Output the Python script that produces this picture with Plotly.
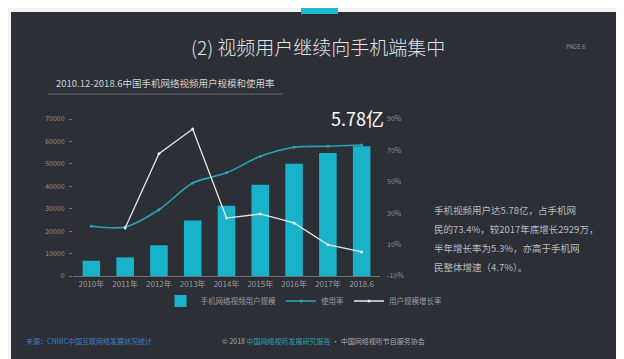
import plotly.graph_objects as go

categories = ["2010年", "2011年", "2012年", "2013年", "2014年", "2015年", "2016年", "2017年", "2018.6"]
users = [6800, 8300, 13700, 24800, 31300, 40700, 50100, 54800, 57800]          # 万人
usage_rate = [21.7, 21.2, 32.2, 49.2, 55.7, 66.2, 72.0, 72.6, 73.4]            # %
growth_rate = [None, 20.6, 67.9, 83.6, 26.9, 29.5, 23.8, 9.9, 5.3]              # %
left_ticks = [0, 10000, 20000, 30000, 40000, 50000, 60000, 70000]
left_tick_text = ["0", "10000", "20000", "30000", "40000", "50000", "60000", "70000"]
right_ticks = [-10, 10, 30, 50, 70, 90]
right_tick_text = ["-10%", "10%", "30%", "50%", "70%", "90%"]
paragraph = [
    "手机视频用户达5.78亿，占手机网",
    "民的73.4%，较2017年底增长2929万，",
    "半年增长率为5.3%，亦高于手机网",
    "民整体增速（4.7%）。",
]

W, H = 624, 359
L, R, T, B = 65, 252, 111, 91
PW, PH = W - L - R, H - T - B
FONT = "Noto Sans CJK SC"
BG = "#2c2f36"

def px(x):
    return (x - L) / PW

def py(y):
    return (H - y - B) / PH

fig = go.Figure()
fig.add_trace(go.Bar(
    x=categories, y=users, name="手机网络视频用户规模",
    marker=dict(color="#19b3c9", line=dict(width=0)), width=0.52,
))
fig.add_trace(go.Scatter(
    x=categories, y=usage_rate, name="使用率", yaxis="y2", mode="lines+markers",
    line=dict(color="#2aa3b5", width=1.6, shape="spline", smoothing=0.8),
    marker=dict(size=3, color="#2aa3b5"),
))
fig.add_trace(go.Scatter(
    x=categories, y=growth_rate, name="用户规模增长率", yaxis="y2", mode="lines+markers",
    line=dict(color="#e6e8ea", width=1.3),
    marker=dict(size=3, color="#e6e8ea"),
))

shapes = [
    dict(type="rect", xref="paper", yref="paper", x0=px(0), x1=px(W), y0=py(4), y1=py(0),
         fillcolor="#f2f2f2", line=dict(width=0), layer="below"),
    dict(type="rect", xref="paper", yref="paper", x0=px(0), x1=px(W), y0=py(H), y1=py(351),
         fillcolor="#cfd0d2", line=dict(width=0), layer="below"),
    dict(type="rect", xref="paper", yref="paper", x0=px(0), x1=px(3), y0=py(H), y1=py(0),
         fillcolor="#f2f2f2", line=dict(width=0), layer="below"),
    dict(type="rect", xref="paper", yref="paper", x0=px(618), x1=px(W), y0=py(H), y1=py(0),
         fillcolor="#f2f2f2", line=dict(width=0), layer="below"),
    dict(type="rect", xref="paper", yref="paper", x0=px(293), x1=px(330), y0=py(6), y1=py(0),
         fillcolor="#1fb8cc", line=dict(width=0), layer="below"),
    dict(type="line", xref="paper", yref="paper", x0=px(40), x1=px(275), y0=py(86), y1=py(86),
         line=dict(color="#6a6d73", width=1)),
]

annotations = [
    dict(text="(2) 视频用户继续向手机端集中", x=px(310), y=py(38), xref="paper", yref="paper",
         showarrow=False, font=dict(family=FONT, size=19, weight=300, color="#e4e5e7"),
         xanchor="center", yanchor="middle"),
    dict(text="PAGE 6", x=px(568), y=py(38), xref="paper", yref="paper",
         showarrow=False, font=dict(family=FONT, size=6, color="#8c8f94"), xanchor="center", yanchor="middle"),
    dict(text="2010.12-2018.6中国手机网络视频用户规模和使用率", x=px(46), y=py(75), xref="paper", yref="paper",
         showarrow=False, font=dict(family=FONT, size=9.5, color="#d0d2d5"), xanchor="left", yanchor="middle"),
    dict(text="5.78亿", x=px(349), y=py(110), xref="paper", yref="paper",
         showarrow=False, font=dict(family=FONT, size=18, color="#ffffff"), xanchor="center", yanchor="middle"),
    dict(text="来源：CNNIC中国互联网络发展状况统计", x=px(16), y=py(333), xref="paper", yref="paper",
         showarrow=False, font=dict(family=FONT, size=7, color="#3f7fc4"), xanchor="left", yanchor="middle"),
    dict(text="© 2018 <span style='color:#2f9fae'>中国网络视听发展研究报告</span> · 中国网络视听节目服务协会",
         x=px(212), y=py(333), xref="paper", yref="paper",
         showarrow=False, font=dict(family=FONT, size=7, color="#a8aaae"), xanchor="left", yanchor="middle"),
]
for i, line in enumerate(paragraph):
    annotations.append(dict(
        text=line, x=px(424), y=py(202 + 19 * i), xref="paper", yref="paper",
        showarrow=False, font=dict(family=FONT, size=9.5, color="#b8babd"),
        xanchor="left", yanchor="middle",
    ))

fig.update_layout(
    width=W, height=H, autosize=False,
    margin=dict(l=L, r=R, t=T, b=B, pad=0),
    paper_bgcolor=BG, plot_bgcolor=BG,
    font=dict(family=FONT, color="#9a9ca0", size=8),
    xaxis=dict(
        type="category", categoryorder="array", categoryarray=categories,
        showgrid=False, showline=True, linecolor="#6d7076", linewidth=1,
        ticks="", tickfont=dict(size=8, color="#9a9ca0"), zeroline=False,
    ),
    yaxis=dict(
        range=[0, 70000], tickvals=left_ticks, ticktext=left_tick_text,
        showgrid=False, zeroline=False,
        showline=False, ticks="outside", ticklen=3, tickcolor="#6d7076",
        tickfont=dict(size=7, color="#8e9095"), ticklabelstandoff=3,
    ),
    yaxis2=dict(
        range=[-10, 90], overlaying="y", side="right", tickvals=right_ticks,
        ticktext=right_tick_text, showgrid=False, zeroline=False, showline=False,
        tickfont=dict(size=7, color="#8e9095"), ticks="", ticklabelstandoff=6,
    ),
    legend=dict(
        orientation="h", x=px(296), y=py(293), xanchor="center", yanchor="middle",
        font=dict(size=7.5, color="#9a9ca0"), bgcolor="rgba(0,0,0,0)",
        itemwidth=30, tracegroupgap=0,
    ),
    shapes=shapes,
    annotations=annotations,
)

fig.write_html("out.html")
